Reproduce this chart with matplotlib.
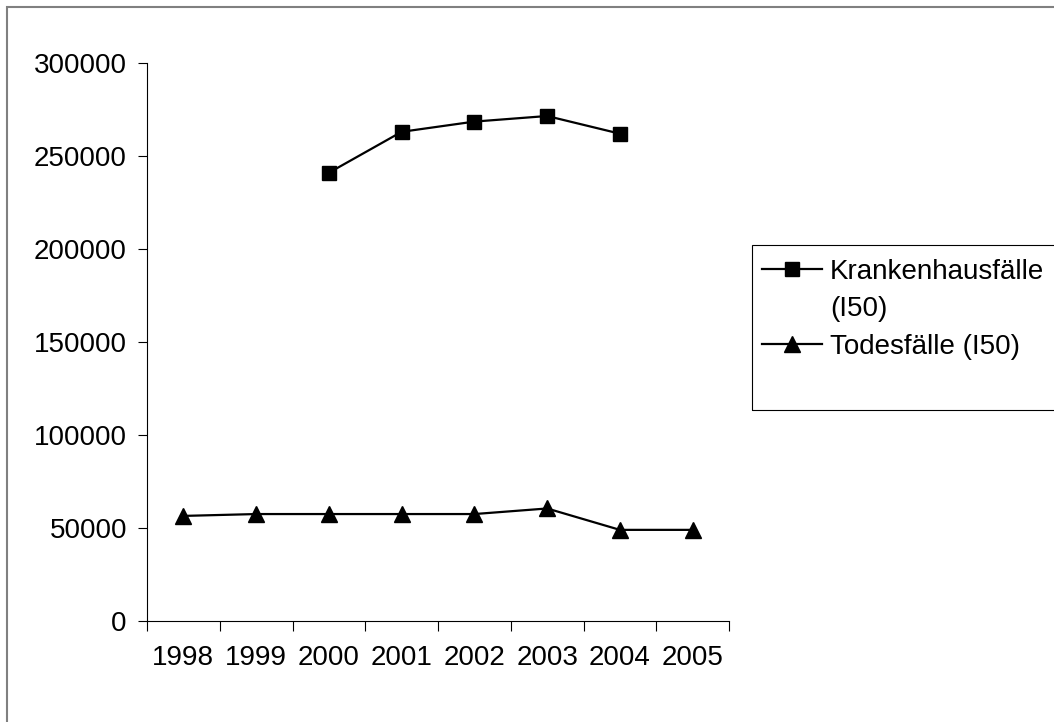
import matplotlib
matplotlib.use("Agg")
import matplotlib.pyplot as plt
from matplotlib.lines import Line2D
from matplotlib.patches import Rectangle
import numpy as np

plt.rcParams['font.family'] = ['Liberation Sans', 'DejaVu Sans']

years = ['1998', '1999', '2000', '2001', '2002', '2003', '2004', '2005']
# Krankenhausfälle only reported from 2000 to 2004
krankenhaus = [np.nan, np.nan, 241000, 263000, 268500, 271500, 262000, np.nan]
todesfaelle = [56500, 57500, 57500, 57500, 57500, 60500, 49000, 49000]
y_ticks = [0, 50000, 100000, 150000, 200000, 250000, 300000]

W, H = 1054, 722
fig = plt.figure(figsize=(W / 100, H / 100), dpi=100)
ax = fig.add_axes([147 / W, 1 - 621 / H, (729 - 147) / W, (621 - 63) / H])

x = np.arange(len(years))
ax.plot(x, krankenhaus, color='black', lw=1.6, marker='s', ms=9.5,
        mfc='black', mec='black', label='Krankenhausfälle', clip_on=False)
ax.plot(x, todesfaelle, color='black', lw=1.6, marker='^', ms=11,
        mfc='black', mec='black', label='Todesfälle (I50)', clip_on=False)

ax.set_xlim(-0.5, len(years) - 0.5)
ax.set_ylim(0, 300000)
ax.set_yticks(y_ticks)
ax.set_yticklabels([str(v) for v in y_ticks])

# category boundaries carry the tick marks, labels sit in the middle
ax.set_xticks(np.arange(-0.5, len(years), 1.0))
ax.set_xticklabels([])
ax.set_xticks(x, minor=True)
ax.set_xticklabels(years, minor=True)
ax.tick_params(axis='x', which='major', length=7, width=0.8, direction='out')
ax.tick_params(axis='x', which='minor', length=0, pad=17, labelsize=20)
ax.tick_params(axis='y', length=6.5, width=0.8, direction='out', pad=8, labelsize=20)

for side in ['top', 'right']:
    ax.spines[side].set_visible(False)
for side in ['left', 'bottom']:
    ax.spines[side].set_linewidth(0.8)

# legend: blank middle entry carries the wrapped "(I50)"
h = ax.get_legend_handles_labels()[0]
blank = Line2D([], [], linestyle='none')
leg = fig.legend([h[0], blank, h[1]], ['Krankenhausfälle', '(I50)', 'Todesfälle (I50)'],
                 loc='upper left', bbox_to_anchor=(762 / W, 1 - 259 / H),
                 frameon=False, fontsize=20, borderpad=0, borderaxespad=0,
                 handlelength=2.15, handletextpad=0.3, labelspacing=0.41,
                 markerscale=1.1)
fig.add_artist(Rectangle((752 / W, 1 - 410 / H), 0.4, (410 - 245) / H,
                         transform=fig.transFigure, fill=False,
                         edgecolor='black', lw=0.8, clip_on=False))

# outer chart border (right/bottom edges fall outside the image)
fig.add_artist(Rectangle((7 / W, -0.1), 1.2, 1 - 7 / H + 0.1,
                         transform=fig.transFigure, fill=False,
                         edgecolor='#808080', lw=1.5, clip_on=False))

fig.savefig('out.png', dpi=100)
